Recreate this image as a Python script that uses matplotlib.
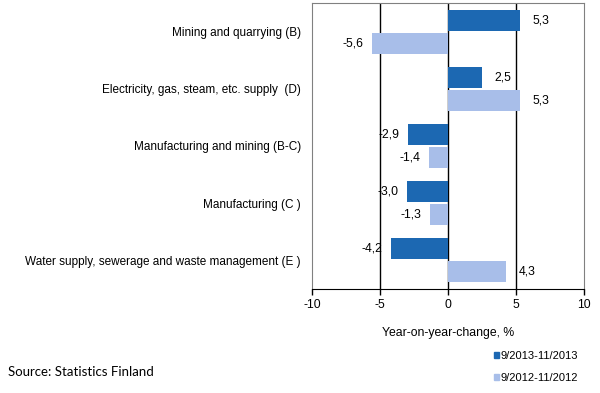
import numpy as np
import matplotlib
matplotlib.use('Agg')
import matplotlib.pyplot as plt
from matplotlib.patches import Patch

plt.rcParams['font.family'] = ['Liberation Sans', 'DejaVu Sans']

categories = ['Mining and quarrying (B)',
              'Electricity, gas, steam, etc. supply  (D)',
              'Manufacturing and mining (B-C)',
              'Manufacturing (C )',
              'Water supply, sewerage and waste management (E )']
period_a = [5.3, 2.5, -2.9, -3.0, -4.2]
period_b = [-5.6, 5.3, -1.4, -1.3, 4.3]
label_a = '9/2013-11/2013'
label_b = '9/2012-11/2012'
xticks = [-10, -5, 0, 5, 10]

dark = '#1c68b2'
light = '#a8bee9'
font_size = 8.5

fig = plt.figure(figsize=(6.0, 3.93), dpi=100)
ax = fig.add_axes([0.52, 0.265, 0.453, 0.727])

y = np.arange(len(categories))
h = 0.37
off = 0.2
ax.barh(y - off, period_a, height=h, color=dark, zorder=3)
ax.barh(y + off, period_b, height=h, color=light, zorder=3)

def fmt(v):
    return f'{v:.1f}'.replace('.', ',')

# value labels just outside the bar ends
for yy, va, vb in zip(y, period_a, period_b):
    for o, v in ((-off, va), (off, vb)):
        dx = 1.55 if v >= 0 else -1.4
        ax.text(v + dx, yy + o, fmt(v), ha='center', va='center', fontsize=8.8)

ax.set_xlim(-10, 10)
ax.set_ylim(len(categories) - 0.5, -0.5)
ax.set_xticks(xticks)
ax.set_xticklabels([str(t) for t in xticks], fontsize=8.8)
ax.set_yticks(y)
ax.set_yticklabels(categories, fontsize=font_size)
ax.tick_params(axis='y', length=0, pad=8)
ax.tick_params(axis='x', direction='out', length=4, width=1, color='black', pad=3)
for t in [-5, 0, 5]:
    ax.axvline(t, color='black', lw=1, zorder=2)
for s in ['left', 'top', 'right']:
    ax.spines[s].set_color('#808080')
ax.spines['bottom'].set_color('black')
ax.set_xlabel('Year-on-year-change, %', fontsize=8.8, labelpad=12)

fig.text(0.013, 0.053, 'Source: Statistics Finland', fontsize=9.5, family=['Lato', 'DejaVu Sans'],
         va='center')

handles = [Patch(color=dark, label=label_a), Patch(color=light, label=label_b)]
fig.legend(handles=handles, loc='lower right', bbox_to_anchor=(0.98, 0.0), frameon=False,
           fontsize=8, handlelength=0.45, handleheight=0.45, handletextpad=0.1,
           labelspacing=1.1)

fig.savefig('out.png', dpi=100)
